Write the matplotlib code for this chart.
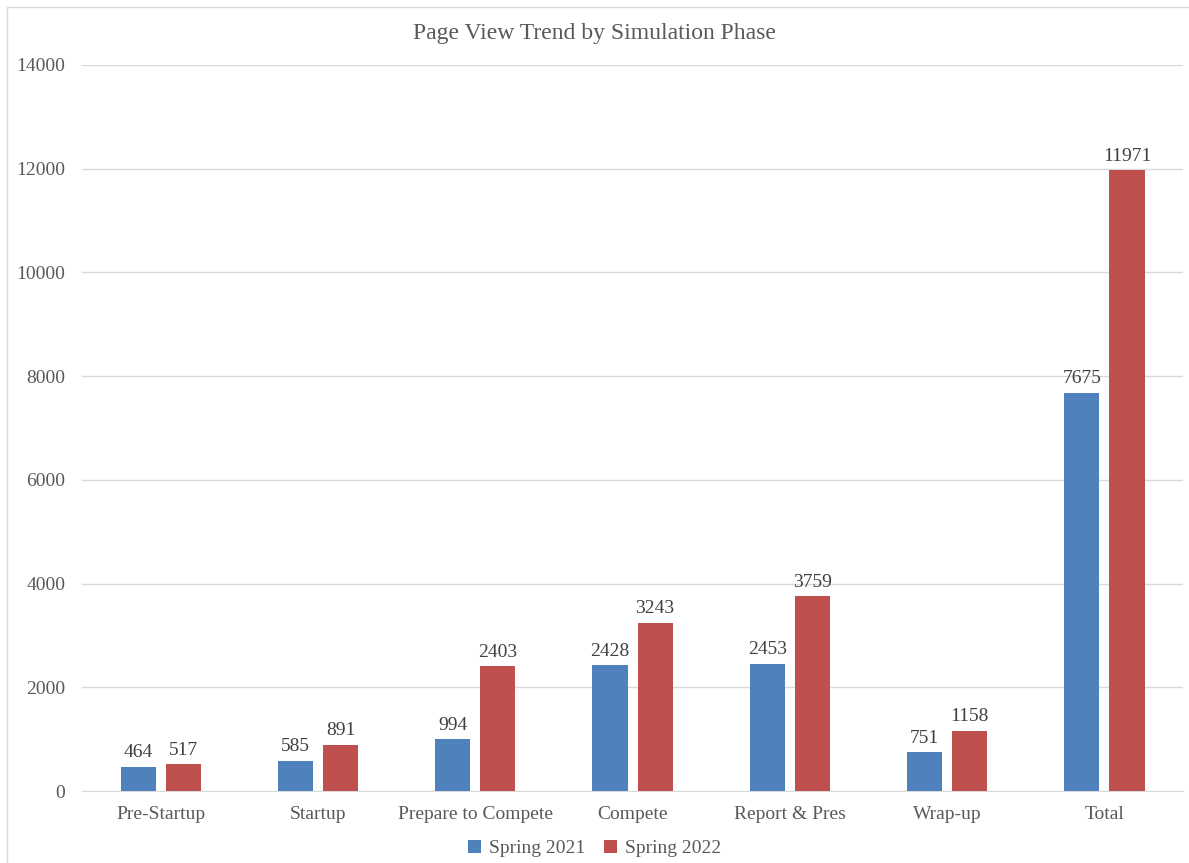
import numpy as np
import matplotlib.pyplot as plt
from matplotlib.patches import Rectangle

plt.rcParams['font.family'] = ['Liberation Serif', 'DejaVu Serif']

phases = ['Pre-Startup', 'Startup', 'Prepare to Compete', 'Compete',
          'Report & Pres', 'Wrap-up', 'Total']
spring_2021 = [464, 585, 994, 2428, 2453, 751, 7675]
spring_2022 = [517, 891, 2403, 3243, 3759, 1158, 11971]

text_color = '#595959'
fig = plt.figure(figsize=(11.89, 8.63), dpi=100)
ax = fig.add_axes([0.069, 0.0834, 0.926, 0.8413])

x = np.arange(len(phases))
w = 0.223
gap = 0.032
b1 = ax.bar(x - w / 2 - gap, spring_2021, w, color='#4F81BD', label='Spring 2021', zorder=3)
b2 = ax.bar(x + w / 2 + gap, spring_2022, w, color='#C0504D', label='Spring 2022', zorder=3)

for bars in (b1, b2):
    ax.bar_label(bars, padding=4, fontsize=14, color='#404040')

ax.set_xlim(-0.5, len(phases) - 0.5)
ax.set_ylim(0, 14000)
ax.set_yticks(np.arange(0, 14001, 2000))
ax.set_xticks(x)
ax.set_xticklabels(phases)
ax.tick_params(axis='both', length=0, labelsize=14, colors=text_color)
ax.tick_params(axis='x', pad=11)
ax.tick_params(axis='y', pad=12)
ax.grid(axis='y', color='#D9D9D9', linewidth=1, zorder=0)
for side in ('top', 'right', 'left'):
    ax.spines[side].set_visible(False)
ax.spines['bottom'].set_color('#D9D9D9')

fig.text(0.5, 0.9615, 'Page View Trend by Simulation Phase', ha='center', va='center',
         fontsize=17, color=text_color)

fig.legend(loc='center', bbox_to_anchor=(0.5, 0.017), ncol=2, frameon=False,
           fontsize=14, handlelength=0.65, handleheight=0.65, handletextpad=0.4,
           columnspacing=1.0, labelcolor=text_color)

# thin frame around the chart area
fig.patches.append(Rectangle((0.006, -0.01), 1.0, 1.0019, transform=fig.transFigure,
                             fill=False, edgecolor='#D9D9D9', linewidth=1))

fig.savefig('out.png', dpi=100)
